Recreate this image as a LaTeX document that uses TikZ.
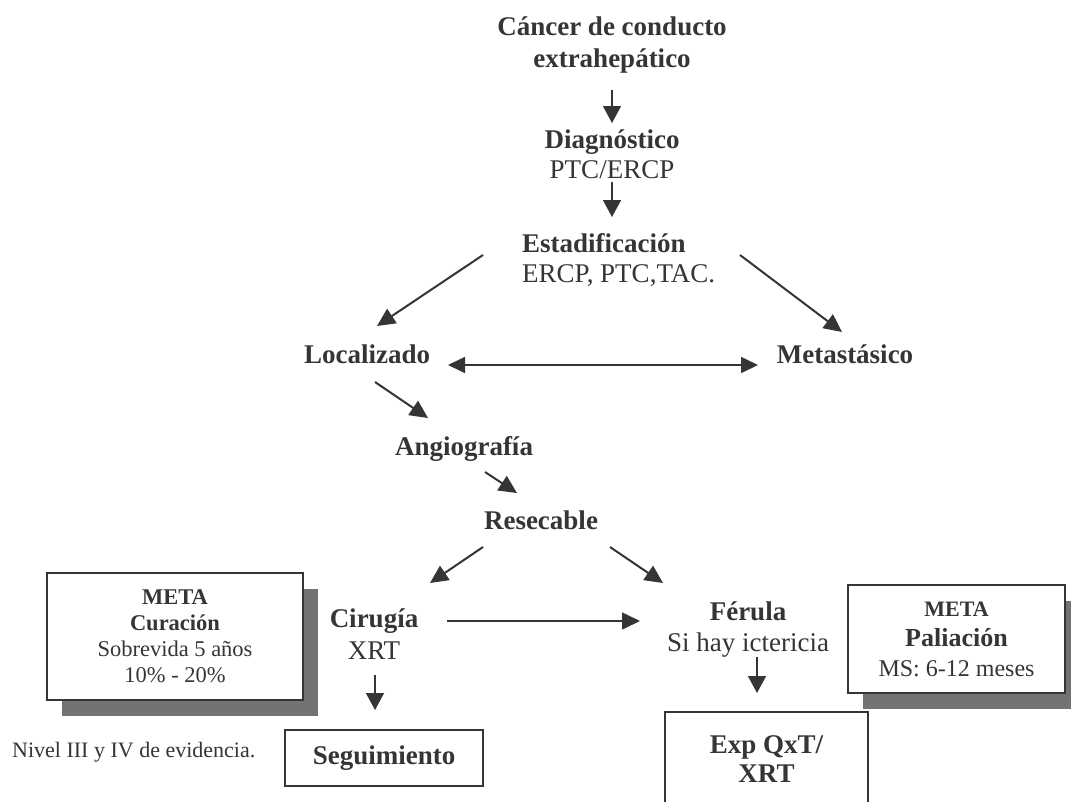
\documentclass[tikz,border=0pt]{standalone}
\usepackage{fontspec}
\setmainfont{Liberation Serif}
\usetikzlibrary{arrows.meta,calc,shadows}
\definecolor{ink}{HTML}{353535}
\definecolor{shade}{HTML}{737373}
\begin{document}
\begin{tikzpicture}[x=1pt,y=-1pt,
  lbl/.style={font=\fontsize{27}{31}\selectfont, text=ink, inner sep=0pt, align=center},
  note/.style={font=\fontsize{22}{26}\selectfont, text=ink, inner sep=0pt},
  plainbox/.style={draw=ink, line width=1.4pt, fill=white, inner sep=0pt, align=center, text=ink},
  shbox/.style={plainbox, drop shadow={shadow xshift=15pt, shadow yshift=-16pt, fill=shade, opacity=1}},
  arr/.style={draw=ink, line width=2pt, -{Triangle[length=18pt,width=17pt]}},
  varr/.style={draw=ink, line width=1.4pt, -{Triangle[length=17pt,width=18pt]}},
  harr/.style={draw=ink, line width=1.6pt, {Triangle[length=17pt,width=16pt]}-{Triangle[length=17pt,width=16pt]}},
]
\useasboundingbox[fill=white] (0,0) rectangle (1071,801);

% nodes
\node[lbl, font=\bfseries\fontsize{27}{32}\selectfont] (cancer) at (612,45) {Cáncer de conducto\\extrahepático};
\node[lbl, font=\fontsize{27}{30}\selectfont] (diag) at (612,154) {{\bfseries Diagnóstico}\\PTC/ERCP};
\node[lbl, align=left, anchor=west, font=\fontsize{27}{30}\selectfont] (estad) at (522,260) {{\bfseries Estadificación}\\ERCP, PTC,TAC.};
\node[lbl, font=\bfseries\fontsize{27}{31}\selectfont] (loc) at (367,354) {Localizado};
\node[lbl, font=\bfseries\fontsize{27}{31}\selectfont] (meta) at (845,354) {Metastásico};
\node[lbl, font=\bfseries\fontsize{27}{31}\selectfont] (angio) at (464,449) {Angiografía};
\node[lbl, font=\bfseries\fontsize{27}{31}\selectfont] (resec) at (541,520) {Resecable};
\node[lbl, font=\fontsize{27}{32}\selectfont] (cir) at (374,634) {{\bfseries Cirugía}\\XRT};
\node[lbl, font=\fontsize{27}{31}\selectfont] (fer) at (748,630) {{\bfseries Férula}\\Si hay ictericia};

\node[shbox, minimum width=256pt, minimum height=127pt, font=\fontsize{22.5}{26}\selectfont] (cur) at (175,636.5)
  {{\bfseries META}\\{\bfseries Curación}\\Sobrevida 5 años\\10\% - 20\%};
\node[shbox, minimum width=217pt, minimum height=108pt, font=\fontsize{24}{30}\selectfont] (pal) at (956.5,639)
  {{\bfseries\fontsize{22}{26}\selectfont META}\\{\bfseries\fontsize{26}{30}\selectfont Paliación}\\MS: 6-12 meses};
\node[plainbox, minimum width=198pt, minimum height=56pt, font=\bfseries\fontsize{27}{31}\selectfont] (seg) at (384,758) {Seguimiento};
\node[plainbox, minimum width=203pt, minimum height=94pt, font=\bfseries\fontsize{27}{29}\selectfont] (exp) at (766.5,759) {Exp QxT/\\XRT};
\node[note, anchor=west] (nivel) at (12,752) {Nivel III y IV de evidencia.};

% connectors
\draw[varr] ($(cancer.center)+(0,45)$) -- ($(diag.center)+(0,-31)$);
\draw[varr] ($(diag.center)+(0,28)$) -- ($(estad.west)+(90,-43)$);
\draw[arr] ($(estad.west)+(-39,-5)$) -- ($(loc.center)+(10,-28)$);
\draw[arr] ($(estad.west)+(218,-5)$) -- ($(meta.center)+(-3,-22)$);
\draw[harr] ($(loc.center)+(81,11)$) -- ($(meta.center)+(-87,11)$);
\draw[arr] ($(loc.center)+(8,28)$) -- ($(angio.center)+(-36,-31)$);
\draw[arr] ($(angio.center)+(21,23)$) -- ($(resec.center)+(-24,-27)$);
\draw[arr] ($(resec.center)+(-58,27)$) -- ($(cir.center)+(56,-51)$);
\draw[arr] ($(resec.center)+(69,27)$) -- ($(fer.center)+(-85,-47)$);
\draw[arr, line width=1.6pt] ($(cir.center)+(73,-13)$) -- ($(fer.center)+(-108,-9)$);
\draw[varr] ($(cir.center)+(1,41)$) -- ($(seg.center)+(-9,-48)$);
\draw[varr] ($(fer.center)+(9,27)$) -- ($(exp.center)+(-9.5,-66)$);
\end{tikzpicture}
\end{document}
